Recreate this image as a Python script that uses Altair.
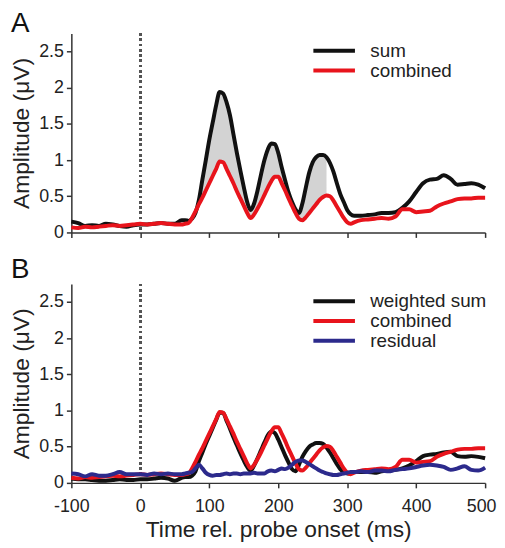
import altair as alt
import pandas as pd

# time grid (ms)
T = [-100, -90, -80, -70, -60, -50, -40, -30, -20, -10, 0, 10, 20, 30, 40, 50,
     60, 65, 70, 75, 80, 85, 90, 95, 100, 105, 110, 115, 120, 125, 130, 135, 140,
     145, 150, 155, 160, 165, 170, 175, 180, 185, 190, 195, 200, 205, 210, 215,
     220, 225, 230, 235, 240, 245, 250, 255, 260, 265, 270, 275, 280, 285, 290,
     295, 300, 305, 310,
     320, 330, 340, 350, 360, 370, 380, 390, 400, 410, 420, 430, 440, 450, 460,
     470, 480, 490, 500]

# panel A: sum
SUM_A = [0.15, 0.13, 0.09, 0.10, 0.09, 0.12, 0.11, 0.09, 0.08, 0.10, 0.11, 0.11, 0.12, 0.13, 0.12, 0.12,
         0.17, 0.17, 0.16, 0.19, 0.27, 0.45, 0.73, 1.00, 1.28, 1.52, 1.76, 1.94, 1.92, 1.80, 1.62, 1.36, 1.10,
         0.86, 0.63, 0.42, 0.31, 0.40, 0.58, 0.80, 1.00, 1.15, 1.23, 1.22, 1.10, 0.90, 0.72, 0.55,
         0.42, 0.32, 0.27, 0.40, 0.62, 0.83, 0.97, 1.04, 1.07, 1.07, 1.04, 0.96, 0.84, 0.68, 0.53,
         0.42, 0.31, 0.25, 0.23,
         0.23, 0.24, 0.25, 0.27, 0.27, 0.28, 0.34, 0.43, 0.56, 0.68, 0.73, 0.74, 0.79, 0.74, 0.66,
         0.67, 0.68, 0.66, 0.61]

# combined (same in both panels)
COMB = [0.07, 0.06, 0.08, 0.07, 0.08, 0.09, 0.10, 0.09, 0.10, 0.11, 0.12, 0.11, 0.12, 0.13, 0.12, 0.11,
        0.11, 0.12, 0.13, 0.20, 0.29, 0.39, 0.48, 0.58, 0.68, 0.78, 0.88, 0.98, 0.97, 0.88, 0.78, 0.68, 0.57,
        0.47, 0.37, 0.27, 0.20, 0.25, 0.33, 0.42, 0.52, 0.62, 0.71, 0.77, 0.77, 0.68, 0.58, 0.47,
        0.37, 0.27, 0.19, 0.17, 0.21, 0.27, 0.33, 0.39, 0.45, 0.49, 0.51, 0.50, 0.44, 0.36, 0.28,
        0.20, 0.14, 0.12, 0.14,
        0.17, 0.18, 0.19, 0.20, 0.19, 0.22, 0.32, 0.32, 0.28, 0.29, 0.30, 0.36, 0.40, 0.43, 0.46,
        0.47, 0.47, 0.48, 0.48]

# panel B: weighted sum
WSUM_B = [0.06, 0.05, 0.05, 0.04, 0.03, 0.03, 0.04, 0.05, 0.04, 0.04, 0.05, 0.05, 0.06, 0.07, 0.06, 0.03,
          0.07, 0.08, 0.08, 0.10, 0.16, 0.30, 0.42, 0.54, 0.65, 0.76, 0.87, 0.97, 0.97, 0.86, 0.75, 0.63, 0.52,
          0.41, 0.31, 0.22, 0.17, 0.24, 0.34, 0.45, 0.56, 0.66, 0.71, 0.69, 0.60, 0.49, 0.38, 0.28,
          0.19, 0.16, 0.25, 0.36, 0.44, 0.50, 0.53, 0.55, 0.55, 0.54, 0.49, 0.42, 0.34, 0.26, 0.19,
          0.15, 0.13, 0.14, 0.15,
          0.15, 0.15, 0.14, 0.16, 0.17, 0.18, 0.20, 0.24, 0.30, 0.37, 0.39, 0.40, 0.42, 0.43, 0.37,
          0.36, 0.37, 0.36, 0.34]

# panel B: residual
RESID_B = [0.13, 0.12, 0.09, 0.12, 0.10, 0.10, 0.12, 0.15, 0.12, 0.12, 0.12, 0.11, 0.13, 0.12, 0.13, 0.12,
           0.12, 0.13, 0.14, 0.15, 0.20, 0.25, 0.20, 0.14, 0.11, 0.10, 0.11, 0.11, 0.12, 0.13, 0.12, 0.13, 0.13,
           0.12, 0.13, 0.13, 0.13, 0.14, 0.13, 0.13, 0.13, 0.16, 0.17, 0.16, 0.18, 0.20, 0.19, 0.21,
           0.25, 0.29, 0.31, 0.31, 0.29, 0.26, 0.23, 0.20, 0.17, 0.15, 0.13, 0.12, 0.11, 0.11, 0.12,
           0.13, 0.14, 0.15, 0.15,
           0.16, 0.15, 0.17, 0.17, 0.16, 0.18, 0.19, 0.20, 0.22, 0.24, 0.25, 0.24, 0.22, 0.18, 0.20,
           0.23, 0.18, 0.17, 0.21]

FILL_START, FILL_END = 75, 270
SERIES_A = ["sum", "combined"]
SERIES_B = ["weighted sum", "combined", "residual"]
COLORS_A = ["#111111", "#e8141c"]
COLORS_B = ["#111111", "#e8141c", "#2c2a8c"]
X_TICKS = [-100, 0, 100, 200, 300, 400, 500]
Y_TICKS = [0, 0.5, 1, 1.5, 2, 2.5]

FONT = "Liberation Sans"

dfA = pd.DataFrame({"t": T, "sum": SUM_A, "combined": COMB})
longA = dfA.melt("t", var_name="series", value_name="amp")
dfB = pd.DataFrame({"t": T, "weighted sum": WSUM_B, "combined": COMB, "residual": RESID_B})
longB = dfB.melt("t", var_name="series", value_name="amp")

xscale = alt.Scale(domain=[-100, 500], nice=False)
yscale = alt.Scale(domain=[0, 2.75], nice=False)


def yaxis():
    return alt.Axis(values=Y_TICKS, labelExpr="toString(datum.value)", title="Amplitude (μV)",
                    titlePadding=5)


def xaxis(labels):
    if labels:
        return alt.Axis(values=X_TICKS, labelExpr="toString(datum.value)", labelFlush=False,
                        labelOffset={"condition": {"test": "datum.value == 500", "value": -4}, "value": 0},
                        labelPadding=10, title="Time rel. probe onset (ms)", titlePadding=3)
    return alt.Axis(values=X_TICKS, labels=False, title=None)


def legend():
    return alt.Legend(title=None, orient="none", legendX=256, legendY=8, symbolType="M-3,0H3",
                      symbolSize=196, symbolStrokeWidth=4, labelFontSize=19, labelFont=FONT,
                      labelOffset=27, rowPadding=-1, labelColor="#222")


def panel(long_df, series, colors, label, with_fill, labels, title_offset):
    base_x = alt.X("t:Q", scale=xscale, axis=xaxis(labels))
    layers = []
    if with_fill:
        fill = alt.Chart(dfA).transform_filter(
            (alt.datum.t >= FILL_START) & (alt.datum.t <= FILL_END)
        ).mark_area(color="#d3d3d3", interpolate="monotone").encode(
            x=base_x, y=alt.Y("combined:Q", scale=yscale, axis=yaxis()), y2="sum:Q")
        layers.append(fill)
    rule = alt.Chart(long_df).mark_rule(color="#555555", strokeDash=[2, 3.3], strokeWidth=2).encode(
        x=alt.datum(0))
    lines = alt.Chart(long_df).mark_line(strokeWidth=4, interpolate="monotone").encode(
        x=base_x,
        y=alt.Y("amp:Q", scale=yscale, axis=yaxis()),
        color=alt.Color("series:N", scale=alt.Scale(domain=series, range=colors), legend=legend()),
        order=alt.Order("o:Q"),
    ).transform_calculate(o="indexof(%s, datum.series)" % str(series))
    layers += [rule, lines]
    return alt.layer(*layers).properties(
        width=418, height=201,
        title=alt.TitleParams(text=label, anchor="start", frame="bounds", fontSize=28,
                              fontWeight="normal", font=FONT, color="#111111", offset=title_offset),
    )


pA = panel(longA, SERIES_A, COLORS_A, "A", True, False, -6)
pB = panel(longB, SERIES_B, COLORS_B, "B", False, True, -1)

chart = alt.vconcat(pA, pB, spacing=15).resolve_scale(color="independent").resolve_legend(
    color="independent").properties(padding={"left": 2, "top": 0, "right": 0, "bottom": 0}).configure_view(
    stroke=None).configure_axis(
    grid=False, domainColor="#333333", tickColor="#333333", domainWidth=1.5, tickWidth=1.5, tickSize=5,
    labelFont=FONT, titleFont=FONT, labelFontSize=18, titleFontSize=23, labelColor="#222222",
    titleColor="#222222", titleFontWeight="normal", labelPadding=3)

chart.save("out.html", embed_options={"renderer": "svg", "actions": False})
